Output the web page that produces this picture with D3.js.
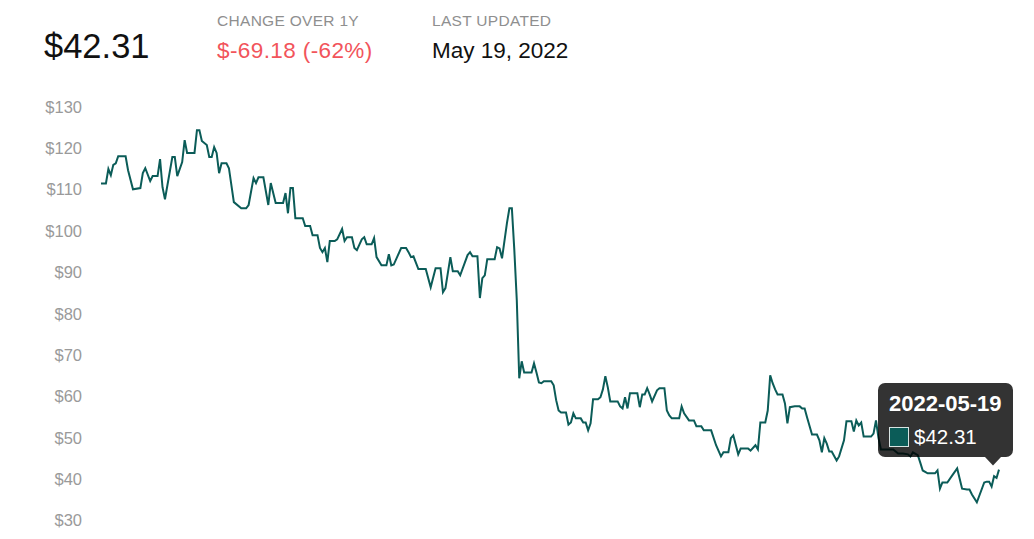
<!DOCTYPE html>
<html>
<head>
<meta charset="utf-8">
<script src="https://cdn.jsdelivr.net/npm/d3@7"></script>
<style>
  html, body { margin: 0; padding: 0; background: #fff; }
  #main { width: 1034px; height: 539px; }
  text { font-family: "Liberation Sans", Arial, Helvetica, sans-serif; }
</style>
</head>
<body>
<div id="main"></div>
<script>
'use strict' ;

// header values
var lastPrice = '$42.31';
var changeText = '$-69.18 (-62%)';
var updatedText = 'May 19, 2022';
var headerLabels = ['CHANGE OVER 1Y', 'LAST UPDATED'];

// series : days since 2021-05-19 , closing price
var startDate = '2021-05-19';
var dayOffsets = [
  0, 2, 3, 4, 5, 6, 7, 10, 11, 13, 16, 17, 18, 20, 21, 23, 24, 25, 26, 29,
  30, 31, 33, 34, 35, 38, 39, 40, 41, 43, 44, 45, 46, 47, 48, 49, 51, 52, 54, 57,
  59, 60, 62, 63, 64, 66, 68, 69, 71, 74, 75, 76, 77, 78, 79, 82, 83, 85, 86, 88,
  89, 90, 91, 92, 93, 95, 96, 98, 99, 100, 102, 103, 104, 106, 107, 108, 110, 111, 112, 114,
  116, 117, 118, 119, 122, 124, 125, 126, 127, 129, 132, 134, 136, 138, 139, 140, 142, 143, 145, 146,
  149, 150, 151, 153, 154, 155, 156, 157, 160, 161, 162, 163, 165, 166, 167, 168, 169, 170, 171, 172,
  175, 176, 177, 178, 179, 180, 183, 184, 185, 186, 187, 189, 190, 191, 192, 193, 195, 196, 197, 198,
  199, 200, 202, 203, 204, 205, 206, 207, 210, 211, 212, 213, 214, 215, 218, 219, 220, 221, 222, 223,
  224, 226, 227, 229, 230, 231, 232, 235, 236, 237, 239, 241, 242, 244, 245, 248, 250, 252, 253, 255,
  256, 257, 259, 260, 263, 264, 266, 267, 268, 270, 271, 272, 273, 274, 275, 277, 278, 279, 280, 282,
  284, 285, 286, 287, 289, 291, 292, 293, 294, 295, 296, 297, 299, 300, 302, 303, 305, 306, 307, 308,
  309, 310, 313, 314, 315, 316, 317, 322, 324, 326, 328, 329, 330, 332, 333, 334, 336, 339, 340, 341,
  342, 344, 346, 348, 350, 352, 353, 354, 356, 359, 360, 361, 362, 363, 364, 365
];
var prices = [
  111.49, 111.5, 115.0, 113.5, 116.0, 116.4, 118.1, 118.1, 114.7, 110.1, 110.4, 114.0, 115.2, 112.1, 113.3, 113.3, 117.4, 110.6, 107.7, 117.9,
  117.9, 113.3, 116.7, 122.0, 118.9, 118.9, 124.4, 124.4, 121.8, 120.8, 117.9, 117.9, 120.3, 118.9, 114.0, 116.4, 116.4, 115.2, 107.0, 105.5,
  105.5, 106.3, 112.8, 111.6, 113.0, 113.0, 106.3, 111.6, 106.8, 106.8, 109.2, 104.3, 110.4, 110.4, 103.1, 103.1, 101.2, 101.2, 99.0, 99.0,
  95.9, 94.9, 95.9, 92.5, 97.6, 97.6, 98.0, 100.5, 97.6, 98.5, 98.5, 95.9, 95.4, 98.0, 98.5, 96.8, 96.8, 98.3, 93.7, 91.7,
  91.7, 94.4, 91.7, 91.9, 95.9, 95.9, 94.9, 93.7, 93.9, 90.8, 90.8, 86.4, 91.0, 91.0, 85.2, 86.2, 93.7, 90.3, 90.3, 89.3,
  94.2, 94.9, 93.9, 93.9, 83.8, 88.6, 89.3, 93.2, 93.2, 96.1, 95.8, 93.4, 101.9, 105.5, 105.5, 95.4, 83.3, 64.4, 68.5, 65.8,
  65.8, 68.0, 65.8, 63.4, 63.2, 63.7, 63.7, 62.7, 59.1, 56.6, 56.1, 56.1, 53.2, 53.7, 55.9, 54.7, 54.7, 53.7, 53.7, 51.8,
  53.5, 59.3, 59.3, 59.8, 61.7, 64.9, 62.2, 58.8, 58.8, 57.6, 57.1, 59.8, 57.1, 60.8, 60.8, 57.4, 60.5, 60.5, 62.0, 60.5,
  58.8, 61.5, 62.0, 62.0, 56.6, 55.4, 54.7, 54.7, 57.6, 55.9, 54.2, 54.2, 52.8, 52.8, 51.8, 51.8, 48.2, 45.5, 46.5, 46.5,
  49.9, 50.6, 46.0, 47.4, 47.4, 46.9, 48.2, 47.2, 53.7, 53.7, 56.6, 65.1, 63.2, 61.7, 60.5, 60.5, 58.3, 53.5, 57.4, 57.6,
  57.6, 57.1, 57.1, 54.9, 50.8, 50.8, 49.4, 46.5, 49.9, 48.6, 46.7, 46.7, 44.5, 45.5, 49.4, 54.0, 54.0, 51.5, 54.2, 53.0,
  53.7, 50.3, 50.3, 51.0, 54.2, 50.0, 47.2, 47.2, 46.2, 46.2, 46.0, 45.5, 46.5, 45.8, 44.0, 42.1, 41.4, 41.4, 42.1, 37.7,
  39.2, 39.2, 40.9, 42.6, 37.7, 37.5, 37.5, 36.3, 34.4, 39.2, 39.4, 39.4, 38.2, 40.7, 40.3, 42.31
];

// y ticks
var yTicks = [30, 40, 50, 60, 70, 80, 90, 100, 110, 120, 130];

// tooltip
var tipDate = '2022-05-19';
var tipValue = '$42.31';

var width = 1034;
var height = 539;
var lineColor = '#0b5c58';

var svg = d3.select('#main').append('svg')
  .attr('width', width)
  .attr('height', height);

var parse = d3.timeParse('%Y-%m-%d');
var start = parse(startDate);

var data = dayOffsets.map(function(d, i) {
  return { date: d3.timeDay.offset(start, d), value: prices[i] };
});

var x = d3.scaleTime()
  .domain([start, d3.timeDay.offset(start, 365)])
  .range([101, 999]);

var y = d3.scaleLinear()
  .domain([30, 130])
  .range([520.5, 107]);

// header
var header = svg.append('g').attr('class', 'header');

header.append('text')
  .attr('x', 44).attr('y', 58)
  .style('font-size', '34.5px')
  .style('fill', '#111')
  .text(lastPrice);

header.selectAll('.hlabel')
  .data(headerLabels).enter()
  .append('text')
  .attr('class', 'hlabel')
  .attr('x', function(d, i) { return i === 0 ? 217 : 432; })
  .attr('y', 26)
  .style('font-size', '15.5px')
  .style('letter-spacing', '0.3px')
  .style('fill', '#8f8f8f')
  .text(function(d) { return d; });

header.append('text')
  .attr('x', 217).attr('y', 58)
  .style('font-size', '22.5px')
  .style('letter-spacing', '0.4px')
  .style('fill', '#f2545b')
  .text(changeText);

header.append('text')
  .attr('x', 432).attr('y', 58)
  .style('font-size', '22.5px')
  .style('fill', '#111')
  .text(updatedText);

// y axis (labels only)
var yAxis = d3.axisLeft(y)
  .tickValues(yTicks)
  .tickSize(0)
  .tickPadding(0)
  .tickFormat(function(d) { return '$' + d; });

var gy = svg.append('g')
  .attr('transform', 'translate(82,0)')
  .call(yAxis);

gy.select('.domain').remove();
gy.selectAll('text')
  .style('font-family', '"Liberation Sans", Arial, sans-serif')
  .style('font-size', '16.5px')
  .style('fill', '#9a9a9a');

// line
var line = d3.line()
  .x(function(d) { return x(d.date); })
  .y(function(d) { return y(d.value); });

svg.append('path')
  .datum(data)
  .attr('fill', 'none')
  .attr('stroke', lineColor)
  .attr('stroke-width', 2)
  .attr('stroke-linejoin', 'miter')
  .attr('d', line);

// tooltip on the last point
var last = data[data.length - 1];
var tipX = x(last.date) - 6;
var tipY = y(last.value) - 4;

var tip = svg.append('g').attr('class', 'tooltip');

tip.append('rect')
  .attr('x', 878).attr('y', 383)
  .attr('width', 135).attr('height', 74)
  .attr('rx', 7)
  .attr('fill', 'rgba(0,0,0,0.8)');

tip.append('path')
  .attr('d', 'M' + (tipX - 8) + ',457L' + tipX + ',' + tipY + 'L' + (tipX + 8) + ',457Z')
  .attr('fill', 'rgba(0,0,0,0.8)');

tip.append('text')
  .attr('x', 889).attr('y', 411)
  .style('font-size', '22px')
  .style('font-weight', 'bold')
  .style('fill', '#fff')
  .text(tipDate);

tip.append('rect')
  .attr('x', 889.5).attr('y', 427.5)
  .attr('width', 19).attr('height', 19)
  .attr('fill', lineColor)
  .attr('stroke', '#d8e4e3')
  .attr('stroke-width', 1);

tip.append('text')
  .attr('x', 914).attr('y', 444)
  .style('font-size', '20.5px')
  .style('fill', '#fff')
  .text(tipValue);
</script>
</body>
</html>
